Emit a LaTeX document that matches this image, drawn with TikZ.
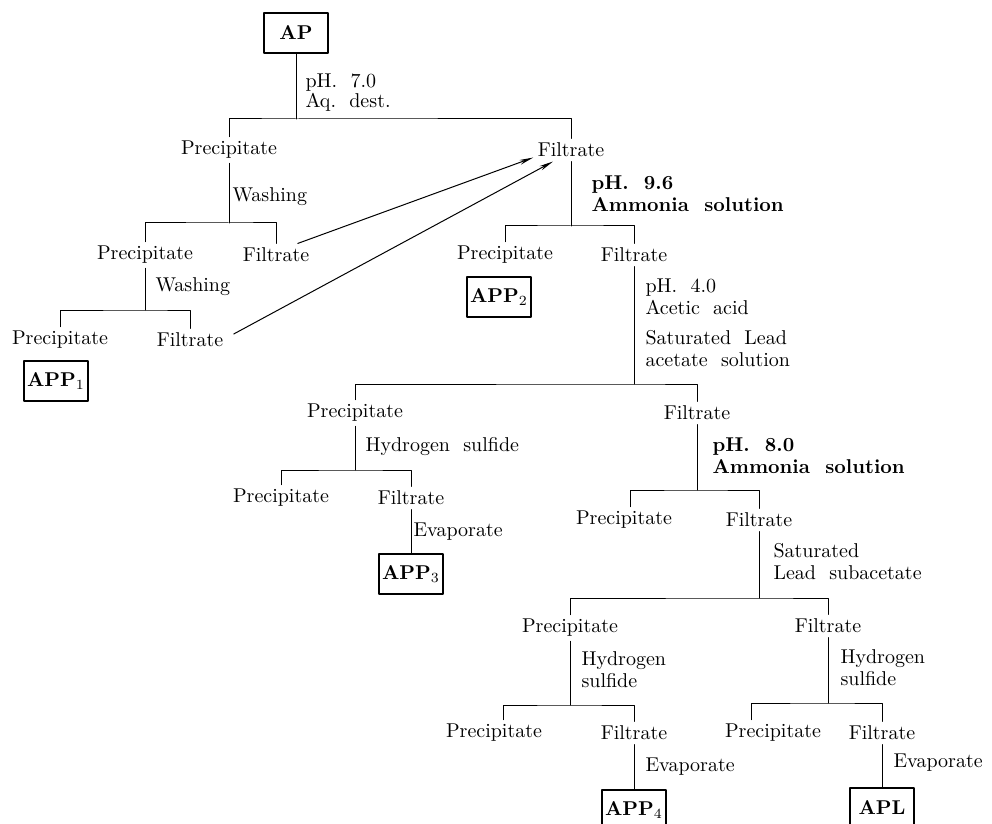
\documentclass[tikz,border=0pt]{standalone}
\usepackage{tikz}
\usetikzlibrary{arrows.meta}
\usetikzlibrary{positioning}

\begin{document}
\begin{tikzpicture}[line cap=round,line join=round,x=0.5pt,y=-0.5pt,line width=.5pt,
sample/.style={draw,line width=.6pt,inner sep=0pt,minimum width=32pt,minimum height=20pt,font=\bfseries},
part/.style={inner sep=2pt},
reagent/.style={anchor=west,align=left,inner sep=0pt},
flow/.style={-{Stealth[length=7pt,width=2.4pt]}}]
\useasboundingbox (0,0) rectangle (992,824);
\clip (0,0) rectangle (992,824);
% fractions
\node[sample] (ap) at (296,33) {AP};
\node[part] (pre1) at (229,150) {Precipitate};
\node[part] (fil1) at (571,150) {Filtrate};
\node[part] (pre2) at (145,255) {Precipitate};
\node[part] (fil2) at (276,255) {Filtrate};
\node[part] (pre3) at (60,340) {Precipitate};
\node[part] (fil3) at (190,340) {Filtrate};
\node[sample] (app1) at (56,381) {APP$_1$};
\node[part] (pre4) at (505,255) {Precipitate};
\node[part] (fil4) at (634,255) {Filtrate};
\node[sample] (app2) at (499,297) {APP$_2$};
\node[part] (pre5) at (355,413) {Precipitate};
\node[part] (fil5) at (697,413) {Filtrate};
\node[part] (pre6) at (281,498) {Precipitate};
\node[part] (fil6) at (411,498) {Filtrate};
\node[sample] (app3) at (411,574) {APP$_3$};
\node[part] (pre7) at (624,520) {Precipitate};
\node[part] (fil7) at (759,520) {Filtrate};
\node[part] (pre8) at (570,628) {Precipitate};
\node[part] (fil8) at (828,626) {Filtrate};
\node[part] (pre9) at (494,733) {Precipitate};
\node[part] (fil9) at (634,733) {Filtrate};
\node[sample] (app4) at (634,810) {APP$_4$};
\node[part] (pre10) at (773,733) {Precipitate};
\node[part] (fil10) at (882,733) {Filtrate};
\node[sample] (apl) at (882,808) {APL};
% treatments
\node[reagent] (r1) at (305,93) {pH.~~7.0\\[-2pt]Aq.~~dest.};
\node[reagent] (r2) at (232,197) {Washing};
\node[reagent] (r3) at (155,287) {Washing};
\node[reagent,font=\bfseries] (r4) at (591,194) {pH.~~9.6\\[-1pt]Ammonia~~solution};
\node[reagent] (r5) at (645,297) {pH.~~4.0\\[-1pt]Acetic~~acid};
\node[reagent] (r6) at (645,349) {Saturated~~Lead\\[-1pt]acetate~~solution};
\node[reagent] (r7) at (365,447) {Hydrogen~~sulfide};
\node[reagent] (r8) at (413,532) {Evaporate};
\node[reagent,font=\bfseries] (r9) at (712,456) {pH.~~8.0\\[-1pt]Ammonia~~solution};
\node[reagent] (r10) at (773,562) {Saturated\\[-1pt]Lead~~subacetate};
\node[reagent] (r11) at (581,670) {Hydrogen\\[-1pt]sulfide};
\node[reagent] (r12) at (840,668) {Hydrogen\\[-1pt]sulfide};
\node[reagent] (r13) at (645,767) {Evaporate};
\node[reagent] (r14) at (893,763) {Evaporate};
% branch points
\coordinate (b1) at (296,119);
\coordinate (b2) at (229,223);
\coordinate (b3) at (145,310);
\coordinate (b4) at (571,226);
\coordinate (b5) at (634,384);
\coordinate (b6) at (355,470);
\coordinate (b7) at (697,490);
\coordinate (b8) at (759,598);
\coordinate (b9) at (570,705);
\coordinate (b10) at (828,703);
\draw (ap.south) -- (b1);
\draw (pre1.north) |- (b1) -| (fil1.north);
\draw (pre1.south) -- (b2);
\draw (pre2.north) |- (b2) -| (fil2.north);
\draw (pre2.south) -- (b3);
\draw (pre3.north) |- (b3) -| (fil3.north);
\draw (fil1.south) -- (b4);
\draw (pre4.north) |- (b4) -| (fil4.north);
\draw (fil4.south) -- (b5);
\draw (pre5.north) |- (b5) -| (fil5.north);
\draw (pre5.south) -- (b6);
\draw (pre6.north) |- (b6) -| (fil6.north);
\draw (fil6.south) -- (app3.north);
\draw (fil5.south) -- (b7);
\draw ([xshift=3pt]pre7.north) |- (b7) -| (fil7.north);
\draw (fil7.south) -- (b8);
\draw (pre8.north) |- (b8) -| (fil8.north);
\draw (pre8.south) -- (b9);
\draw ([xshift=4.5pt]pre9.north) |- (b9) -| (fil9.north);
\draw (fil9.south) -- (app4.north);
\draw (fil8.south) -- (b10);
\draw ([xshift=-11pt]pre10.north) |- (b10) -| (fil10.north);
\draw (fil10.south) -- (apl.north);
% filtrates of the washings
\draw[flow] ([xshift=-8pt]fil2.north east) -- ([yshift=2pt]fil1.south west);
\draw[flow] ([xshift=3pt,yshift=3pt]fil3.east) -- ([xshift=-9pt]fil1.south);
\end{tikzpicture}
\end{document}
